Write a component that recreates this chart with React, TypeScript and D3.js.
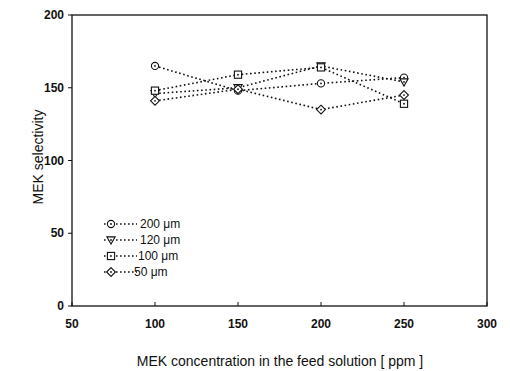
import React from "react";
import * as d3 from "d3";

const concentrations = [100, 150, 200, 250];
const s200 = [165, 148, 153, 157];
const s120 = [146, 150, 165, 154];
const s100 = [148, 159, 164, 139];
const s50 = [141, 149, 135, 145];
const xTicks = [50, 100, 150, 200, 250, 300];
const yTicks = [0, 50, 100, 150, 200];
const seriesNames = ["200 \u03bcm", "120 \u03bcm", "100 \u03bcm", "50 \u03bcm"];
const seriesShapes = ["circle", "triangle", "square", "diamond"];
const seriesValues = [s200, s120, s100, s50];

function Marker({ shape, x, y }: { shape: string; x: number; y: number }) {
  const r = 3.6;
  let el: React.ReactNode;
  if (shape === "circle") el = <circle cx={x} cy={y} r={r} />;
  else if (shape === "square") el = <rect x={x - r} y={y - r} width={2 * r} height={2 * r} />;
  else if (shape === "triangle")
    el = <path d={`M${x - r - 0.5},${y - r + 0.5}L${x + r + 0.5},${y - r + 0.5}L${x},${y + r + 0.5}Z`} />;
  else el = <path d={`M${x},${y - r - 0.8}L${x + r + 0.8},${y}L${x},${y + r + 0.8}L${x - r - 0.8},${y}Z`} />;
  return (
    <g>
      <g fill="white" stroke="#111" strokeWidth={1.1}>{el}</g>
      <circle cx={x} cy={y} r={0.9} fill="#111" />
    </g>
  );
}

export default function App() {
  const x = d3.scaleLinear().domain([50, 300]).range([72, 487]);
  const y = d3.scaleLinear().domain([0, 200]).range([306, 15]);
  const line = d3
    .line<number>()
    .x((_, i) => x(concentrations[i]))
    .y((d) => y(d));
  const font = "Arial, 'Liberation Sans', sans-serif";
  return (
    <svg width={510} height={371} style={{ position: "absolute", left: 0, top: 0, background: "white" }} fontFamily={font}>
      <rect x={x(50)} y={y(200)} width={x(300) - x(50)} height={y(0) - y(200)} fill="none" stroke="#111" strokeWidth={1.3} />
      {yTicks.map((t) => (
        <g key={"y" + t}>
          <line x1={x(50) - 4} x2={x(50)} y1={y(t)} y2={y(t)} stroke="#111" />
          <text x={x(50) - 8} y={y(t)} dy="0.35em" textAnchor="end" fontSize={12} fontWeight="bold" fill="#111">{t}</text>
        </g>
      ))}
      {xTicks.map((t) => (
        <g key={"x" + t}>
          <line x1={x(t)} x2={x(t)} y1={y(0)} y2={y(0) - 4} stroke="#111" />
          <text x={x(t)} y={y(0) + 22} textAnchor="middle" fontSize={12} fontWeight="bold" fill="#111">{t}</text>
        </g>
      ))}
      <text transform={`translate(43,157) rotate(-90)`} textAnchor="middle" fontSize={14} fill="#111">MEK selectivity</text>
      <text x={280} y={366} textAnchor="middle" fontSize={14} fill="#111">MEK concentration in the feed solution [ ppm ]</text>
      {seriesValues.map((vals, si) => (
        <path key={"l" + si} d={line(vals) || ""} fill="none" stroke="#111" strokeWidth={1.6} strokeDasharray="1.6,2.6" />
      ))}
      {seriesValues.map((vals, si) =>
        vals.map((v, i) => <Marker key={`m${si}-${i}`} shape={seriesShapes[si]} x={x(concentrations[i])} y={y(v)} />)
      )}
      {seriesNames.map((n, i) => {
        const ly = 224 + i * 16;
        return (
          <g key={"lg" + i}>
            <line x1={104} x2={137} y1={ly} y2={ly} stroke="#111" strokeWidth={1.4} strokeDasharray="1.6,2.4" />
            <Marker shape={seriesShapes[i]} x={111} y={ly} />
            <text x={i === 3 ? 134 : i === 2 ? 138 : 140} y={ly} dy="0.35em" fontSize={12} fill="#111">{n}</text>
          </g>
        );
      })}
    </svg>
  );
}
